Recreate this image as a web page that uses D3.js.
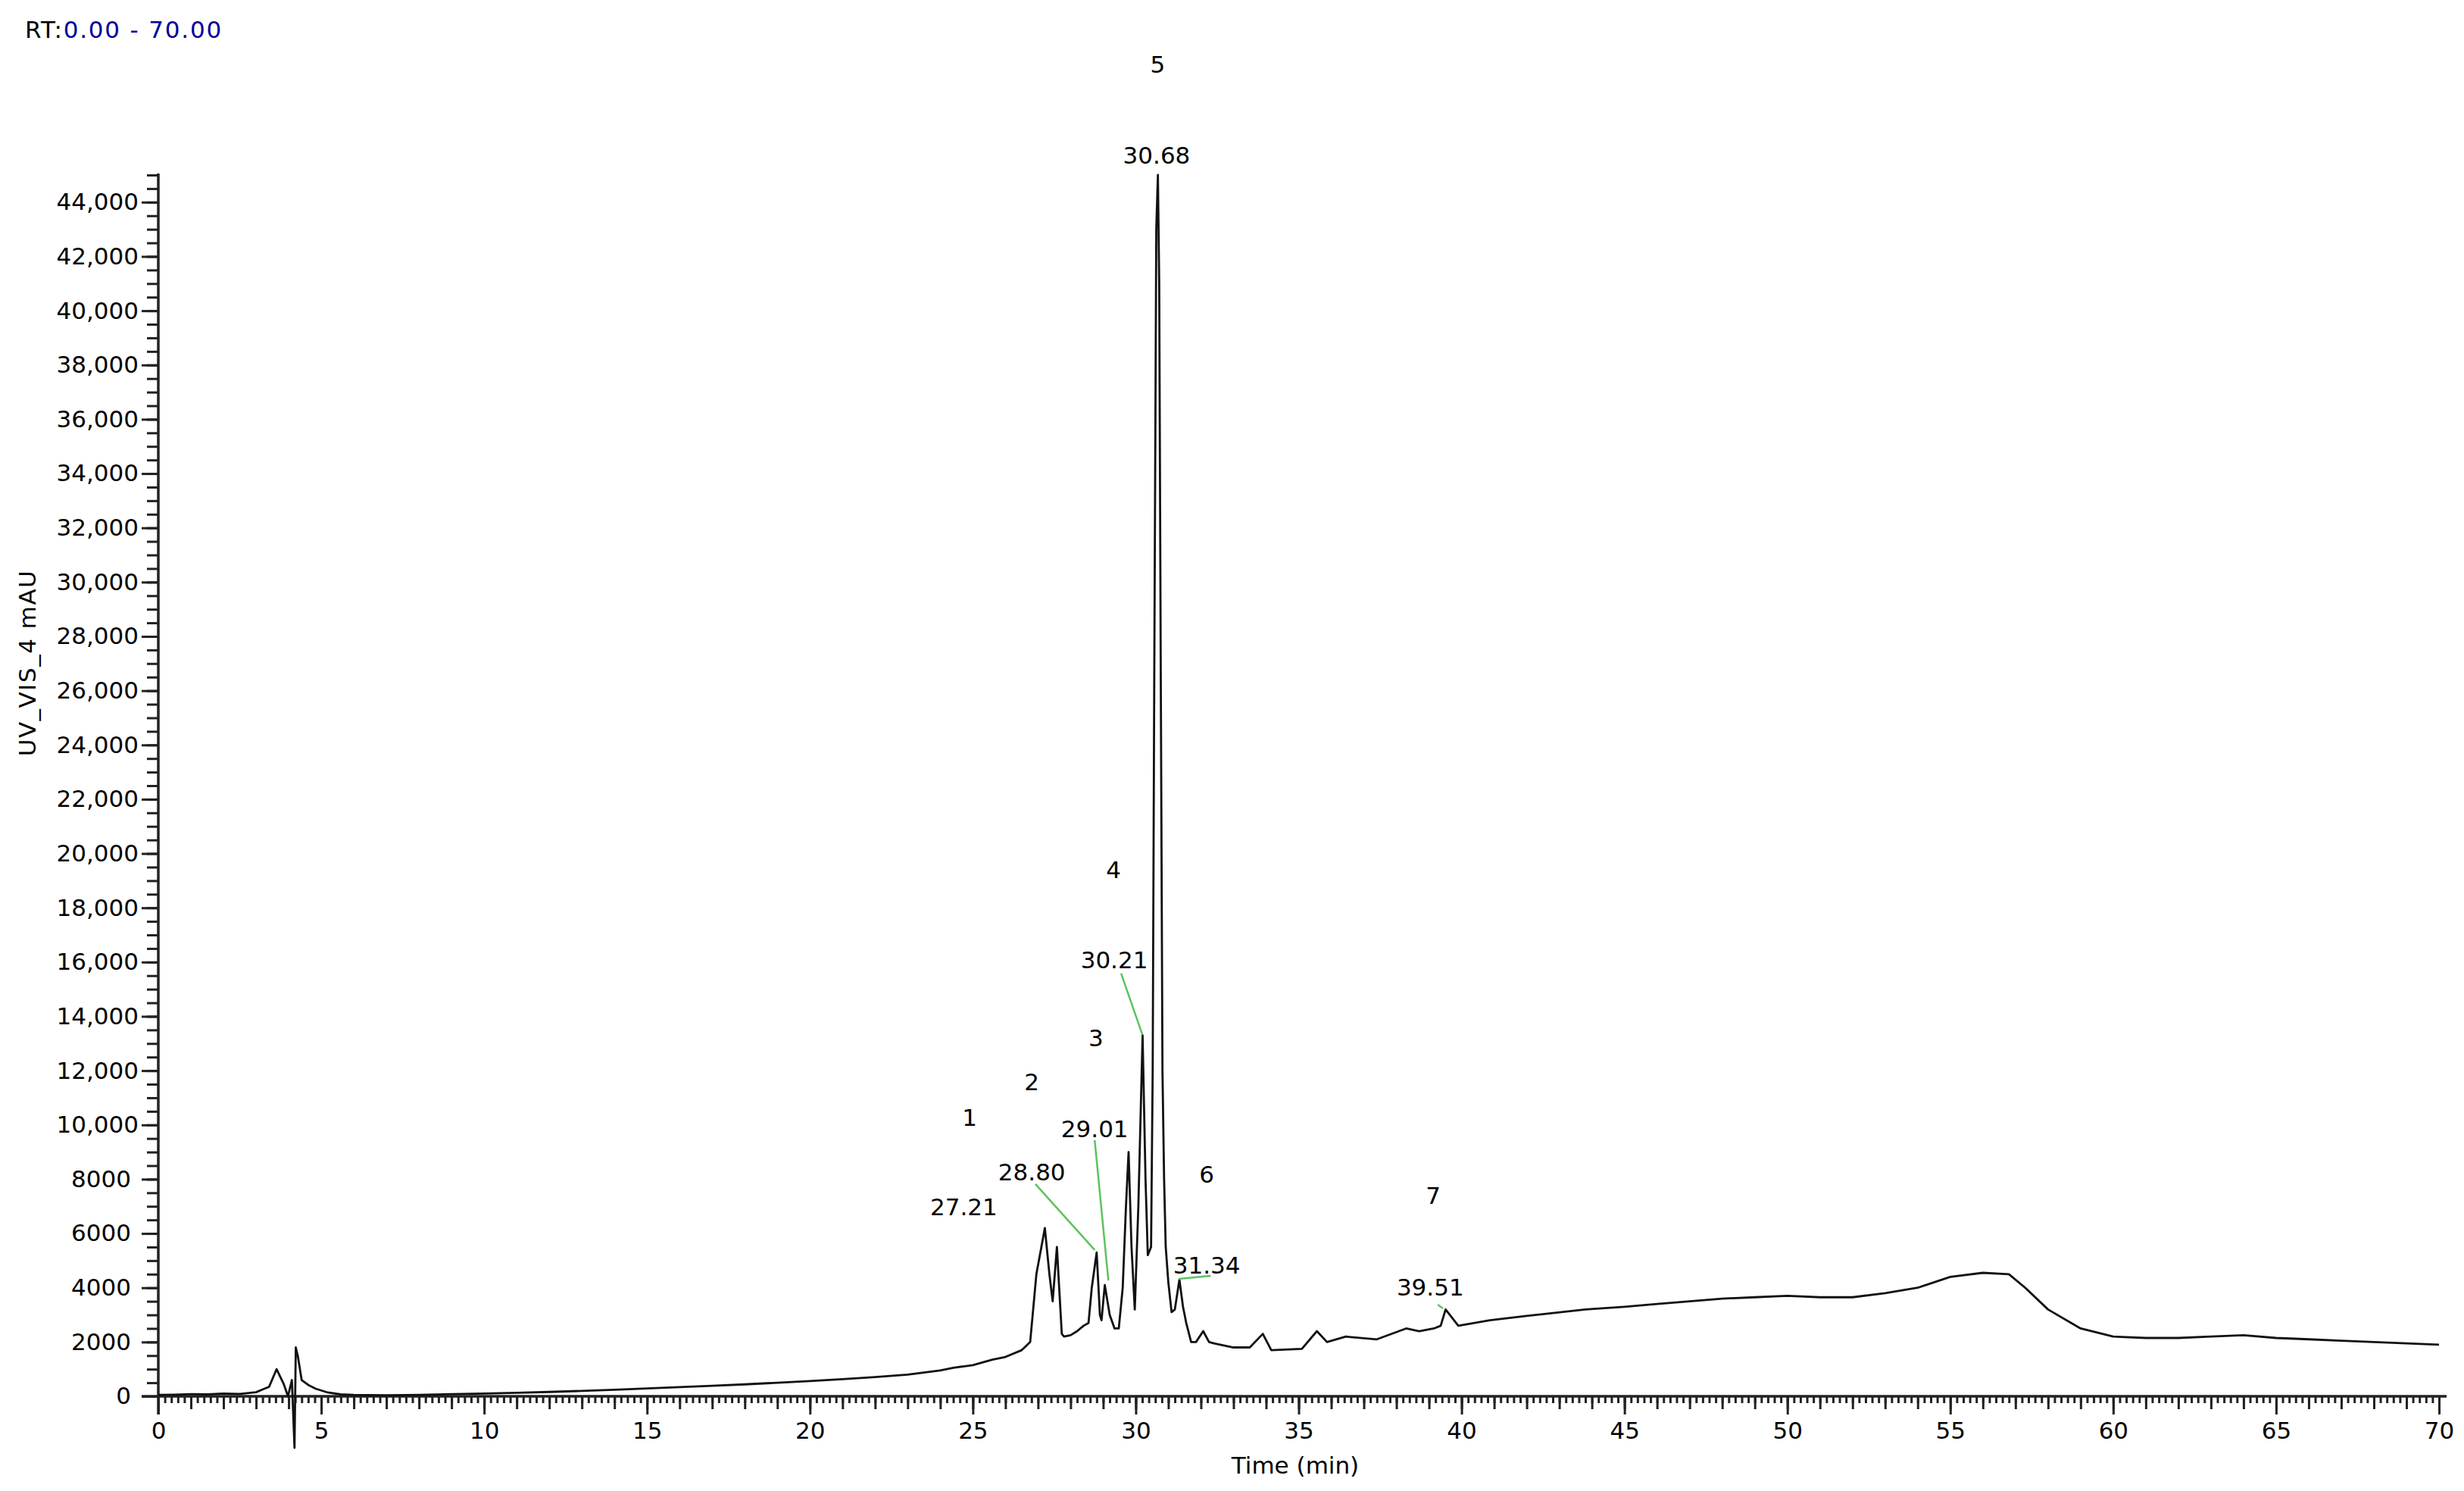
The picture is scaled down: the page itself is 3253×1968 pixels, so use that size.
<!DOCTYPE html>
<html>
<head>
<meta charset="utf-8">
<script src="https://cdn.jsdelivr.net/npm/d3@7"></script>
<style>
  html, body { margin: 0; padding: 0; background: #ffffff; }
  svg { display: block; }
  text { font-family: "DejaVu Sans", "Liberation Sans", Arial, sans-serif; }
</style>
</head>
<body>
<svg id="chart" width="3253" height="1968"></svg>
<script>
// ---------------- DATA ----------------
const retentionTimes = [
  0, 0.5, 1.0, 1.5, 2.0, 2.5, 3.0, 3.2, 3.4, 3.63, 3.85, 3.98, 4.1, 4.18, 4.22, 4.28, 4.4, 4.6, 4.83, 5.2, 5.6,
  6, 7, 8, 9, 10, 11, 12, 13, 14, 15, 16, 17, 18, 19, 20, 21, 22, 23, 24, 24.4, 25, 25.6, 26, 26.5, 26.76,
  26.95, 27.21, 27.35, 27.45, 27.58, 27.65, 27.73, 27.8, 28.0, 28.2, 28.4, 28.55, 28.65, 28.80, 28.90, 28.95,
  29.05, 29.2, 29.35, 29.48, 29.6, 29.7, 29.78, 29.87, 29.97, 30.08, 30.21, 30.3, 30.37, 30.47, 30.52, 30.57,
  30.63, 30.68, 30.72, 30.77, 30.82, 30.87, 30.92, 31.0, 31.1, 31.2, 31.34, 31.45, 31.55, 31.7, 31.85, 32.07,
  32.25, 32.4, 33.0, 33.5, 33.9, 34.16, 35.1, 35.56, 35.87, 36.45, 37.4, 38.3, 38.7, 39.15, 39.36, 39.51, 39.9,
  40.87, 42.0, 43.8, 45, 46, 47, 48, 49, 50, 51, 52, 53, 54, 55, 56, 56.8, 57.3, 58, 59, 60, 61, 62, 63, 64,
  65, 66, 67, 68, 69, 70
];
const absorbance = [
  50, 60, 80, 70, 100, 90, 150, 250, 350, 1000, 450, 0, 600, -1900, 1800, 1500, 600, 420, 280, 140, 70,
  50, 40, 50, 80, 100, 130, 160, 200, 240, 290, 340, 390, 440, 500, 560, 630, 710, 800, 950, 1050, 1150, 1350, 1450, 1700, 2000,
  4500, 6200, 4500, 3500, 5500, 4000, 2300, 2200, 2250, 2400, 2600, 2700, 4000, 5300, 3000, 2800,
  4100, 3000, 2500, 2500, 4000, 7000, 9000, 5500, 3200, 7000, 13300, 8000, 5200, 5500, 12000, 27000,
  43000, 45000, 41000, 26000, 12000, 8000, 5500, 4200, 3100, 3200, 4300, 3300, 2700, 2000, 2000, 2400,
  2000, 1950, 1800, 1800, 2300, 1700, 1750, 2400, 2000, 2200, 2100, 2500, 2400, 2500, 2600, 3200, 2600,
  2800, 2960, 3200, 3300, 3400, 3500, 3600, 3650, 3700, 3650, 3650, 3800, 4000, 4400, 4550, 4500, 4000, 3200, 2500, 2200, 2150, 2150, 2200, 2250,
  2150, 2100, 2050, 2000, 1950, 1900
];

// Peak annotations
const peakNumbers     = ["1", "2", "3", "4", "5", "6", "7"];
const peakNumberTime  = [24.9, 26.81, 28.78, 29.32, 30.67, 32.18, 39.13];
const peakNumberValue = [10270, 11590, 13200, 19400, 49080, 8180, 7400];

const peakRTLabels    = ["27.21", "28.80", "29.01", "30.21", "30.68", "31.34", "39.51"];
const peakRTTime      = [24.72, 26.81, 28.74, 29.34, 30.64, 32.18, 39.04];
const peakRTValue     = [6980, 8260, 9850, 16080, 45730, 4830, 4020];

// Green connector lines (label -> peak), in data units; null = no connector
const connFromTime  = [null, 26.92, 28.74, 29.55, null, 31.32, 39.27];
const connFromValue = [null, 7820, 9440, 15580, null, 4330, 3380];
const connToTime    = [null, 28.74, 29.16, 30.20, null, 32.30, 39.43];
const connToValue   = [null, 5390, 4270, 13340, null, 4440, 3240];

const xMajorTicks = [0, 5, 10, 15, 20, 25, 30, 35, 40, 45, 50, 55, 60, 65, 70];
const yMajorTicks = [0, 2000, 4000, 6000, 8000, 10000, 12000, 14000, 16000, 18000, 20000, 22000,
                     24000, 26000, 28000, 30000, 32000, 34000, 36000, 38000, 40000, 42000, 44000];

const xTitle = "Time (min)";
const yTitle = "UV_VIS_4 mAU";
const rtPrefix = "RT:";
const rtRange = "0.00 - 70.00";

// ---------------- LAYOUT ----------------
const svg = d3.select("#chart");
const FS = 31;
const x = d3.scaleLinear().domain([0, 70]).range([209, 3220]);
const y = d3.scaleLinear().domain([0, 45000]).range([1843, 231]);

const axisColor = "#222";

// Y axis: minor ticks every 500
const yMinor = d3.range(0, 45001, 500);
const gyMinor = svg.append("g").attr("transform", `translate(${x(0)},0)`)
  .call(d3.axisLeft(y).tickValues(yMinor).tickSize(15).tickFormat(""));
const gyMajor = svg.append("g").attr("transform", `translate(${x(0)},0)`)
  .call(d3.axisLeft(y).tickValues(yMajorTicks).tickSize(22).tickPadding(6)
    .tickFormat(d => d >= 10000 ? d3.format(",")(d) : String(d)));
[gyMinor, gyMajor].forEach(g => {
  g.select(".domain").remove();
  g.selectAll(".tick line").attr("stroke", axisColor).attr("stroke-width", 3);
});
gyMajor.selectAll(".tick text")
  .attr("font-size", FS).attr("fill", "#000")
  .attr("font-family", "DejaVu Sans, sans-serif")
  .attr("x", d => d >= 10000 ? -26 : -36);

// X axis ticks
const xMinor = d3.range(0, 70.001, 0.2).map(v => +v.toFixed(2));
const xMid = d3.range(0, 71, 1);
const gxMinor = svg.append("g").attr("transform", `translate(0,${y(0)})`)
  .call(d3.axisBottom(x).tickValues(xMinor).tickSize(9).tickFormat(""));
const gxMid = svg.append("g").attr("transform", `translate(0,${y(0)})`)
  .call(d3.axisBottom(x).tickValues(xMid).tickSize(17).tickFormat(""));
const gxMajor = svg.append("g").attr("transform", `translate(0,${y(0)})`)
  .call(d3.axisBottom(x).tickValues(xMajorTicks).tickSize(24).tickPadding(10).tickFormat(d3.format("d")));
[gxMinor, gxMid, gxMajor].forEach(g => {
  g.select(".domain").remove();
  g.selectAll(".tick line").attr("stroke", axisColor).attr("stroke-width", 3);
});
gxMajor.selectAll(".tick text")
  .attr("font-size", FS).attr("fill", "#000")
  .attr("font-family", "DejaVu Sans, sans-serif");

// Axis lines
svg.append("line")
  .attr("x1", x(0)).attr("x2", x(0))
  .attr("y1", y(45000) - 2).attr("y2", y(0) + 24)
  .attr("stroke", axisColor).attr("stroke-width", 3.5);
svg.append("line")
  .attr("x1", x(0) - 22).attr("x2", x(70) + 10)
  .attr("y1", y(0)).attr("y2", y(0))
  .attr("stroke", axisColor).attr("stroke-width", 3.5);

// Trace
const pts = retentionTimes.map((t, i) => [t, absorbance[i]]);
svg.append("path")
  .datum(pts)
  .attr("fill", "none")
  .attr("stroke", "#111")
  .attr("stroke-width", 2.8)
  .attr("stroke-linejoin", "round")
  .attr("d", d3.line().x(d => x(d[0])).y(d => y(d[1])));

// Connectors
peakRTLabels.forEach((lab, i) => {
  if (connFromTime[i] === null) return;
  svg.append("line")
    .attr("x1", x(connFromTime[i])).attr("y1", y(connFromValue[i]))
    .attr("x2", x(connToTime[i])).attr("y2", y(connToValue[i]))
    .attr("stroke", "#5cc35c").attr("stroke-width", 2.5);
});

// RT labels
svg.selectAll("text.rt").data(peakRTLabels).enter().append("text")
  .attr("class", "rt")
  .attr("x", (d, i) => x(peakRTTime[i]))
  .attr("y", (d, i) => y(peakRTValue[i]))
  .attr("text-anchor", "middle")
  .attr("dominant-baseline", "central")
  .attr("font-size", FS).attr("fill", "#000")
  .text(d => d);

// Peak numbers
svg.selectAll("text.pn").data(peakNumbers).enter().append("text")
  .attr("class", "pn")
  .attr("x", (d, i) => x(peakNumberTime[i]))
  .attr("y", (d, i) => y(peakNumberValue[i]))
  .attr("text-anchor", "middle")
  .attr("dominant-baseline", "central")
  .attr("font-size", FS).attr("fill", "#000")
  .text(d => d);

// Titles
svg.append("text")
  .attr("x", 1710).attr("y", 1934)
  .attr("text-anchor", "middle").attr("dominant-baseline", "central")
  .attr("font-size", FS).attr("fill", "#000")
  .text(xTitle);
svg.append("text")
  .attr("transform", "translate(36,875) rotate(-90)")
  .attr("text-anchor", "middle").attr("dominant-baseline", "central")
  .attr("font-size", FS).attr("fill", "#000")
  .attr("letter-spacing", 1.5)
  .text(yTitle);

// RT header
const hdr = svg.append("text").attr("x", 33).attr("y", 39)
  .attr("dominant-baseline", "central").attr("font-size", FS)
  .attr("letter-spacing", 1.8);
hdr.append("tspan").attr("fill", "#000").text(rtPrefix);
hdr.append("tspan").attr("fill", "#00009c").text(rtRange);
</script>
</body>
</html>
